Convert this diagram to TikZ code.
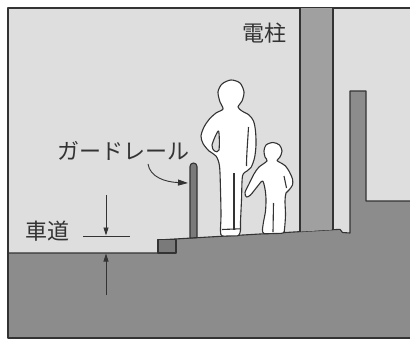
\documentclass[tikz,border=0pt]{standalone}
\usepackage{fontspec}
\newfontfamily\jpfont{Noto Sans CJK JP}
\usetikzlibrary{arrows.meta}
\definecolor{sky}{HTML}{DEDEDE}
\definecolor{ground}{HTML}{8C8C8C}
\definecolor{polefill}{HTML}{A0A0A0}
\definecolor{curbfill}{HTML}{7A7A7A}
\definecolor{railfill}{HTML}{7A7A7A}
\definecolor{ink}{HTML}{333333}
\tikzset{
  outline/.style={draw=ink, line width=1.1pt, line join=round},
  person/.style={outline, fill=white},
  lbl/.style={inner sep=0pt, text=ink, font=\jpfont\fontsize{22pt}{24pt}\selectfont},
  dimarrow/.style={draw=ink, line width=0.9pt, -{Triangle[length=8pt,width=5pt]}},
  callout/.style={draw=ink, line width=0.9pt, -{Triangle[length=10pt,width=6pt]}},
}
\begin{document}
\begin{tikzpicture}[x=1pt, y=-1pt]
\useasboundingbox (0,0) rectangle (410,340);
\clip (0,0) rectangle (410,340);
\fill[white] (0,0) rectangle (410,340);

% air above the street
\fill[sky] (8,8) rectangle (412,338);

% road, curb, sloped sidewalk and the wall on the right
\fill[ground] (8,253) -- (158,253) -- (158,240) -- (340,229.3) -- (342.5,232.5)
  -- (350,233) -- (350,91) -- (366,91) -- (366,201) -- (412,201) -- (412,338)
  -- (8,338) -- cycle;
\draw[outline] (8,253) -- (158,253) -- (158,240) -- (340,229.3) -- (342.5,232.5)
  -- (350,233) -- (350,91) -- (366,91) -- (366,201) -- (412,201);

% frame
\draw[outline] (412,8) -- (8,8) -- (8,338) -- (412,338);

% utility pole
\fill[polefill] (300,8) -- (300,231.6) -- (333,229.6) -- (333,8) -- cycle;
\draw[outline] (300,8) -- (300,231.6);
\draw[outline] (333,8) -- (333,229.6);

% curb stone
\filldraw[outline, fill=curbfill] (158,239.6) rectangle (176,253);

% guardrail post
\filldraw[outline, fill=railfill] (190,238) -- (190,166.5) arc (180:360:3.5) -- (197,237.6) -- cycle;

% adult
\filldraw[person] plot[smooth cycle, tension=0.5] coordinates {
  (231,80) (240,83) (244,92) (242,101) (238,107)
  (242,111) (249,115) (253.5,121) (255.5,131) (256,145) (254.5,158) (251,167.5) (247,171)
  (242.5,176) (241.5,200) (240.5,222) (240.5,230) (238.5,235.5)
  (231,235.8) (222,235.8) (220.5,231)
  (221,215) (220.5,190) (219.5,166) (216,156)
  (209,151) (203,143.5) (201,136) (204,127) (209,119.5) (216,113) (223,109)
  (220,102) (218,92) (222,84)};
\filldraw[outline, fill=sky] plot[smooth cycle, tension=0.5] coordinates {
  (218.5,131) (212,145) (214.5,151) (219,150)};
\draw[outline] (234,173) -- (234,229.5);
\draw[outline] (222,229.5) -- (240,228.8);
\draw[outline] (248.5,127) .. controls (247.5,145) and (246.5,155) .. (246.5,166);

% child
\filldraw[person] plot[smooth cycle, tension=0.5] coordinates {
  (273,142.5) (279.5,145) (282,151) (280,157) (277,160.5)
  (281,163) (285.5,166) (289.5,172) (292.5,179) (292.5,185) (289,190) (286,193)
  (285,201) (285.5,215) (284.5,229) (283,233)
  (273,233.5) (264,233.5) (262.5,230)
  (263.5,222) (265.5,211) (266,199) (265,189) (262.5,181)
  (257,187) (250.5,195) (246.5,197) (245,192.5) (249,184) (254,174) (259,167) (267,161)
  (265,157) (264,151) (266,145)};
\draw[outline] (284,176) -- (286.5,188);
\draw[outline] (273.5,203) -- (273,232);

% labels
\node[lbl] (poleLabel) at (264,33) {電柱};
\node[lbl] (railLabel) at (123,151) {ガードレール};
\node[lbl] (roadLabel) at (47,231) {車道};

% height dimension of the sidewalk above the road
\coordinate (dimTopStart) at (106,195);
\coordinate (dimTopEnd) at (106,235.5);
\coordinate (dimBotStart) at (106,295);
\coordinate (dimBotEnd) at (106,253.5);
\coordinate (levelL) at (83,236);
\coordinate (levelR) at (130,236);
\draw[ink, line width=0.9pt] (levelL) -- (levelR);
\draw[dimarrow] (dimTopStart) -- (dimTopEnd);
\draw[dimarrow] (dimBotStart) -- (dimBotEnd);

% pointer to the guardrail
\coordinate (railStart) at (148,164);
\coordinate (railEnd) at (188,183);
\draw[callout] (railStart) .. controls (150,177) and (165,182) .. (railEnd);
\end{tikzpicture}
\end{document}
